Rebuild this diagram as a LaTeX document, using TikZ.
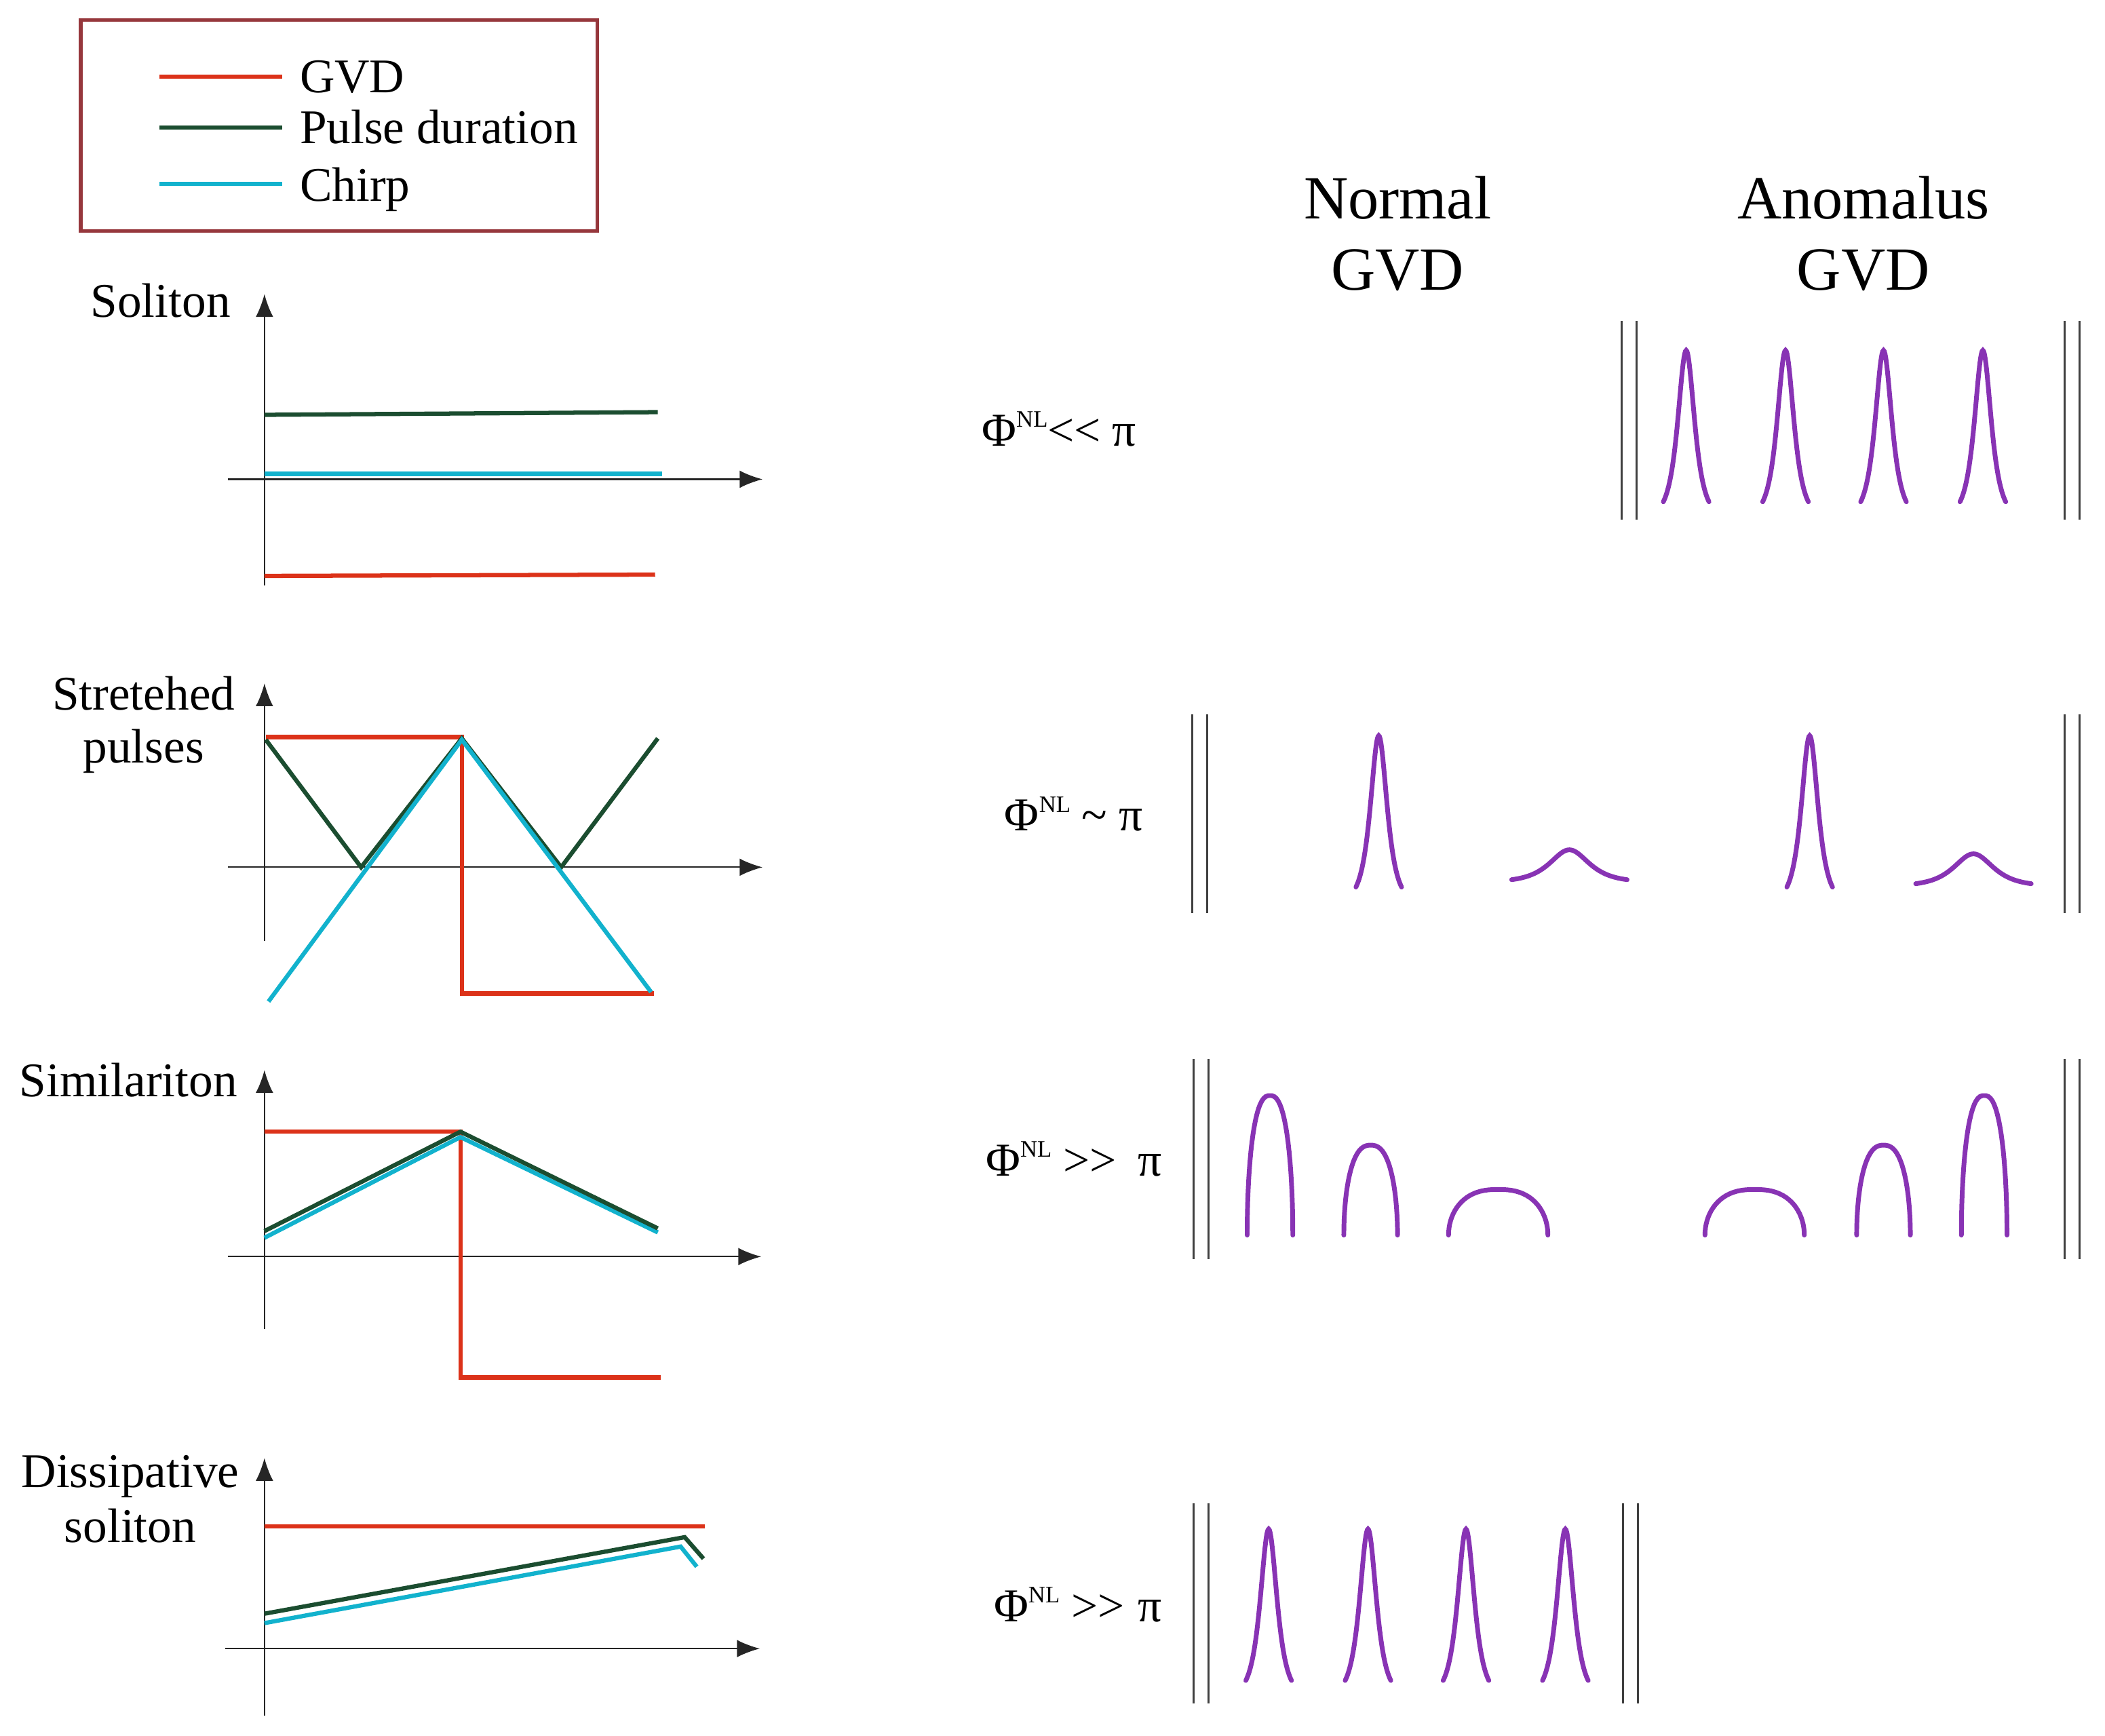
\documentclass[tikz,border=0pt]{standalone}
\usepackage{fontspec}
\setmainfont{Liberation Serif}
\usepackage{tikz}
\usetikzlibrary{arrows.meta}

\definecolor{gvdred}{RGB}{220,50,25}
\definecolor{durgreen}{RGB}{27,77,48}
\definecolor{chirpcyan}{RGB}{18,178,205}
\definecolor{pulsepurple}{RGB}{136,51,180}
\definecolor{framered}{RGB}{150,55,60}

% sech pulse: centre x, top y, half width, height, width parameter
\newcommand{\sechpulse}[5]{\draw[pulse] plot[domain=-#3:#3, samples=61] ({#1+\x}, {#2+#4*(1-2/(exp(\x/#5)+exp(-\x/#5)))});}
% parabolic arch: centre x, bottom y, half width, height
\newcommand{\archpulse}[4]{\draw[pulse] plot[domain=180:0, samples=40] ({#1+#3*sign(cos(\x))*abs(cos(\x))^0.8}, {#2-#4*sin(\x)});}
% pair of mirror lines
\newcommand{\mirrorpair}[3]{\draw[mirror] (#1,#2) -- (#1,#3); \draw[mirror] ({#1+11},#2) -- ({#1+11},#3);}

\begin{document}
\begin{tikzpicture}[x=0.02cm, y=-0.02cm,
        lbl/.style={font=\fontsize{20.5}{24}\selectfont, inner sep=0pt},
        head/.style={font=\fontsize{26}{30}\selectfont, inner sep=0pt},
        axisline/.style={-{Latex[length=0.34cm, width=0.26cm]}, line width=0.6pt, black!85},
        curve/.style={line width=1.8pt},
        pulse/.style={pulsepurple, line width=2pt, line cap=round},
        mirror/.style={black!75, line width=0.9pt}]
    \useasboundingbox (0,0) rectangle (1568,1293);

    % legend
    \draw[framered, line width=1.6pt] (60,15) rectangle (445,172);
    \draw[curve, gvdred] (119,57) -- (210,57);
    \draw[curve, durgreen] (119,95) -- (210,95);
    \draw[curve, chirpcyan] (119,137) -- (210,137);
    \node[lbl, anchor=base west] at (223,69) (leggvd) {GVD};
    \node[lbl, anchor=base west] at (223,107) (legdur) {Pulse duration};
    \node[lbl, anchor=base west] at (223,150) (legchirp) {Chirp};

    % headers
    \node[head, anchor=base] at (1041,163) (normal) {Normal};
    \node[head, anchor=base] at (1041,216) (normalgvd) {GVD};
    \node[head, anchor=base] at (1388,163) (anomal) {Anomalus};
    \node[head, anchor=base] at (1388,216) (anomalgvd) {GVD};

    % soliton
    \node[lbl, anchor=base east] at (172,236) (soliton) {Soliton};
    \draw[axisline] (197,436) -- (197,219);
    \draw[axisline] (170,357) -- (568,357);
    \draw[curve, durgreen] (197,309) -- (490,307);
    \draw[curve, chirpcyan] (197,353) -- (493,353);
    \draw[curve, gvdred] (197,429) -- (488,428);

    % stretched pulses
    \node[lbl, anchor=base] at (107,529) (stretched) {Stretehed};
    \node[lbl, anchor=base] at (107,568) (stretchedb) {pulses};
    \draw[axisline] (197,701) -- (197,509);
    \draw[axisline] (170,646) -- (568,646);
    \draw[curve, gvdred] (198,549) -- (344,549) -- (344,740) -- (487,740);
    \draw[curve, durgreen] (198,551) -- (269,646) -- (344,550) -- (418,646) -- (490,550);
    \draw[curve, chirpcyan] (200,746) -- (344,551) -- (485,739);

    % similariton
    \node[lbl, anchor=base east] at (177,817) (similariton) {Similariton};
    \draw[axisline] (197,990) -- (197,797);
    \draw[axisline] (170,936) -- (567,936);
    \draw[curve, gvdred] (197,843) -- (343,843) -- (343,1026) -- (492,1026);
    \draw[curve, chirpcyan] (197,922) -- (343,847) -- (490,918);
    \draw[curve, durgreen] (197,917) -- (343,843) -- (490,915);

    % dissipative soliton
    \node[lbl, anchor=base] at (97,1108) (dissipative) {Dissipative};
    \node[lbl, anchor=base] at (97,1149) (dissipativeb) {soliton};
    \draw[axisline] (197,1278) -- (197,1086);
    \draw[axisline] (168,1228) -- (566,1228);
    \draw[curve, gvdred] (197,1137) -- (525,1137);
    \draw[curve, durgreen] (197,1202) -- (510,1145) -- (524,1161);
    \draw[curve, chirpcyan] (197,1209) -- (507,1152) -- (519,1167);

    % phase labels
    \node[lbl, font=\fontsize{20}{24}\selectfont, anchor=base west] at (731,332) (phia)
        {Φ\raisebox{8pt}{\fontsize{10}{12}\selectfont NL}<\kern0pt<\hspace{0.17cm}π};
    \node[lbl, font=\fontsize{20}{24}\selectfont, anchor=base west] at (748,619) (phib)
        {Φ\raisebox{8pt}{\fontsize{10}{12}\selectfont NL}\hspace{0.17cm}\textasciitilde\hspace{0.17cm}π};
    \node[lbl, font=\fontsize{20}{24}\selectfont, anchor=base west] at (734,876) (phic)
        {Φ\raisebox{8pt}{\fontsize{10}{12}\selectfont NL}\hspace{0.17cm}>\kern0pt>\hspace{0.32cm}π};
    \node[lbl, font=\fontsize{20}{24}\selectfont, anchor=base west] at (740,1208) (phid)
        {Φ\raisebox{8pt}{\fontsize{10}{12}\selectfont NL}\hspace{0.17cm}>\kern0pt>\hspace{0.2cm}π};

    % row 1
    \mirrorpair{1208}{239}{387}
    \mirrorpair{1538}{239}{387}
    \sechpulse{1256}{261}{17}{124}{5.5}
    \sechpulse{1330}{261}{17}{124}{5.5}
    \sechpulse{1403}{261}{17}{124}{5.5}
    \sechpulse{1477}{261}{17}{124}{5.5}

    % row 2
    \mirrorpair{888}{532}{680}
    \mirrorpair{1538}{532}{680}
    \sechpulse{1027}{548}{17}{124}{5.5}
    \sechpulse{1169}{633}{43}{24}{13}
    \sechpulse{1348}{548}{17}{124}{5.5}
    \sechpulse{1470}{636}{43}{24}{13}

    % row 3
    \mirrorpair{889}{789}{938}
    \mirrorpair{1538}{789}{938}
    \archpulse{946}{920}{17}{104}
    \archpulse{1021}{920}{20}{67}
    \archpulse{1116}{920}{37}{34}
    \archpulse{1307}{920}{37}{34}
    \archpulse{1403}{920}{20}{67}
    \archpulse{1478}{920}{17}{104}

    % row 4
    \mirrorpair{889}{1120}{1269}
    \mirrorpair{1209}{1120}{1269}
    \sechpulse{945}{1139}{17}{124}{5.5}
    \sechpulse{1019}{1139}{17}{124}{5.5}
    \sechpulse{1092}{1139}{17}{124}{5.5}
    \sechpulse{1166}{1139}{17}{124}{5.5}
\end{tikzpicture}
\end{document}
